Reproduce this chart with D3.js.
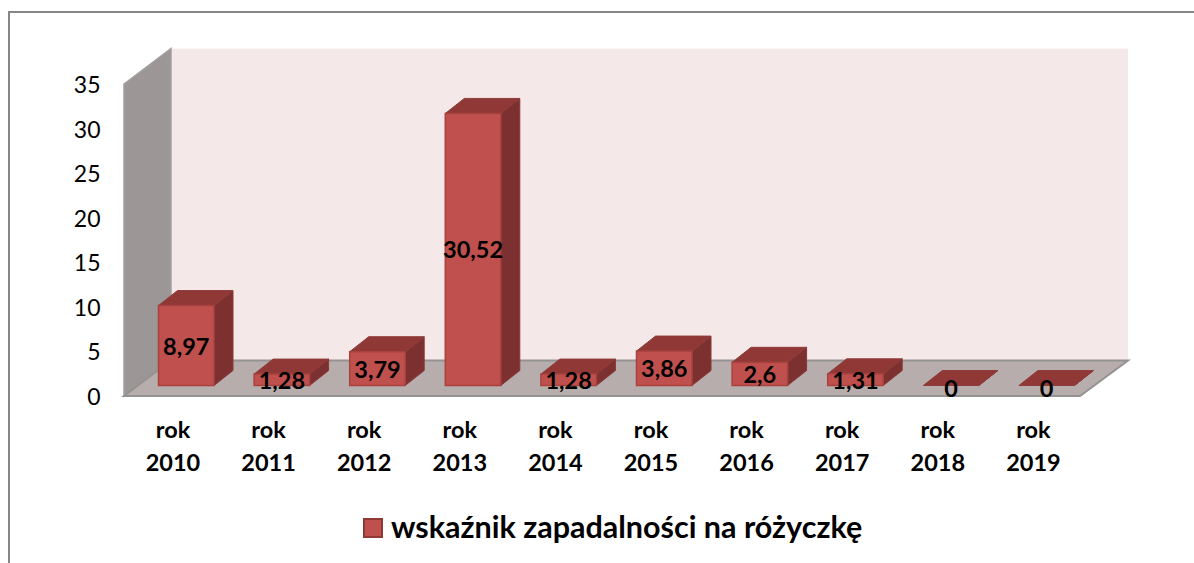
<!DOCTYPE html>
<html><head><meta charset="utf-8">
<script src="https://cdnjs.cloudflare.com/ajax/libs/d3/7.8.5/d3.min.js"></script>
<style>html,body{margin:0;padding:0;background:#fff;overflow:hidden}svg{display:block}text{font-family:Lato,"Open Sans",sans-serif}</style>
</head><body><svg id="c" width="1194" height="563"></svg>
<script>
const categories=["2010","2011","2012","2013","2014","2015","2016","2017","2018","2019"];
const values=[8.97,1.28,3.79,30.52,1.28,3.86,2.6,1.31,0,0];
const labels=["8,97","1,28","3,79","30,52","1,28","3,86","2,6","1,31","0","0"];
const yTicks=[0,5,10,15,20,25,30,35];
const legendLabel="wskaźnik zapadalności na różyczkę";

const svg=d3.select("#c");
const y=d3.scaleLinear().domain([0,35]).range([396,84]);
const x=d3.scaleBand().domain(categories).range([158.5,158.5+9*95.6+55.5]).paddingInner(1-55.5/95.6).paddingOuter(0);
const dx=47,dy=-35.5;          // full chart depth
const bdx=19,bdy=-15;          // bar depth
const base=y(0)-10.5;          // front of the bars on the floor
const pts=a=>a.map(p=>p.join(",")).join(" ");

svg.append("rect").attr("x",9).attr("y",12).attr("width",1200).attr("height",570)
  .attr("fill","#fff").attr("stroke","#868686").attr("stroke-width",2);

svg.append("polygon").attr("fill","#f4e8e8")
  .attr("points",pts([[124+dx,y(35)+dy],[1128,y(35)+dy],[1128,y(0)+dy],[124+dx,y(0)+dy]]));
svg.append("polygon").attr("fill","#9c9696").attr("stroke","#a3a0a0").attr("stroke-width",1.5)
  .attr("points",pts([[124,y(35)],[124+dx,y(35)+dy],[124+dx,y(0)+dy],[124,y(0)]]));
svg.append("polygon").attr("fill","#b8adad").attr("stroke","#959292").attr("stroke-width",2)
  .attr("points",pts([[124,y(0)],[124+dx,y(0)+dy],[1128,y(0)+dy],[1080,y(0)]]));

const bars=svg.append("g").selectAll("g").data(categories).join("g");
const h=i=>base-(y(0)-y(values[i]));
bars.append("polygon").attr("fill","#7c3130").attr("stroke","#8a3836")
  .attr("points",(d,i)=>{const l=x(d)+x.bandwidth(),t=h(i);return pts([[l,t],[l+bdx,t+bdy],[l+bdx,base+bdy],[l,base]]);});
bars.append("polygon").attr("fill","#8f3836").attr("stroke","#8f3c3a")
  .attr("points",(d,i)=>{const l=x(d),r=l+x.bandwidth(),t=h(i);return pts([[l,t],[l+bdx,t+bdy],[r+bdx,t+bdy],[r,t]]);});
bars.filter((d,i)=>values[i]>0).append("rect").attr("fill","#c0504d").attr("stroke","#a8423f").attr("stroke-width",1.5)
  .attr("x",d=>x(d)).attr("width",x.bandwidth())
  .attr("y",d=>h(categories.indexOf(d))).attr("height",d=>base-h(categories.indexOf(d)));

svg.append("g").selectAll("text").data(categories).join("text")
  .attr("text-anchor","middle").attr("font-weight",700).attr("font-size",23.5).attr("fill","#000")
  .attr("x",d=>x(d)+x.bandwidth()/2)
  .attr("y",(d,i)=>(h(i)+base)/2+9+(values[i]===0?2:0))
  .text((d,i)=>labels[i]);

svg.append("g").selectAll("text").data(yTicks).join("text")
  .attr("text-anchor","end").attr("x",100.5).attr("y",d=>y(d)+9).attr("font-size",23).attr("fill","#000")
  .text(d=>d);

const cat=svg.append("g").selectAll("text").data(categories).join("text")
  .attr("text-anchor","middle").attr("font-weight",700).attr("font-size",23.5).attr("fill","#000");
cat.append("tspan").attr("x",d=>x(d)+14.5).attr("y",438).text("rok");
cat.append("tspan").attr("x",d=>x(d)+14.5).attr("y",471).text(d=>d);

svg.append("rect").attr("x",364).attr("y",519).attr("width",18).attr("height",18)
  .attr("fill","#c0504d").attr("stroke","#8f3836").attr("stroke-width",2);
svg.append("text").attr("x",391).attr("y",538).attr("font-weight",700).attr("font-size",30.5).attr("fill","#000").text(legendLabel);
</script></body></html>
